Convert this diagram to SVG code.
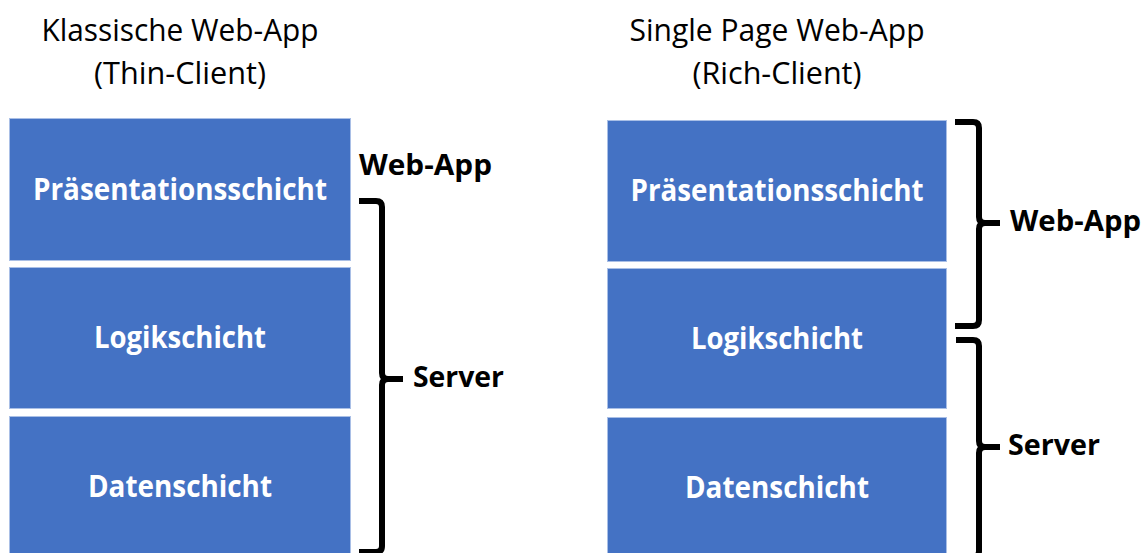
<svg xmlns="http://www.w3.org/2000/svg" width="1148" height="553" viewBox="0 0 1148 553">
  <style>
    .layer { fill: #4472C4; stroke: #a9bfe6; stroke-width: 1; }
    .label { font-family: "Open Sans", "Liberation Sans", sans-serif; font-weight: bold; font-size: 30px; fill: #ffffff; text-anchor: middle; }
    .title { font-family: "Open Sans", "Liberation Sans", sans-serif; font-size: 31.5px; fill: #000000; text-anchor: middle; }
    .tag { font-family: "Open Sans", "Liberation Sans", sans-serif; font-weight: bold; font-size: 29px; fill: #000000; }
    .brace { fill: none; stroke: #000000; stroke-width: 6; stroke-linejoin: round; }
  </style>

  <!-- Titles -->
  <g id="title-classic">
    <text class="title" x="180" y="41" textLength="277" lengthAdjust="spacingAndGlyphs">Klassische Web-App</text>
    <text class="title" x="180" y="84" textLength="172" lengthAdjust="spacingAndGlyphs">(Thin-Client)</text>
  </g>
  <g id="title-spa">
    <text class="title" x="777" y="41" textLength="295" lengthAdjust="spacingAndGlyphs">Single Page Web-App</text>
    <text class="title" x="777" y="84" textLength="169" lengthAdjust="spacingAndGlyphs">(Rich-Client)</text>
  </g>

  <!-- Classic stack -->
  <g id="classic-presentation">
    <rect class="layer" x="9.5" y="118.5" width="341" height="142"/>
    <text class="label" x="180" y="200" textLength="294" lengthAdjust="spacingAndGlyphs">Präsentationsschicht</text>
  </g>
  <g id="classic-logic">
    <rect class="layer" x="9.5" y="267.5" width="341" height="141"/>
    <text class="label" x="180" y="348" textLength="172" lengthAdjust="spacingAndGlyphs">Logikschicht</text>
  </g>
  <g id="classic-data">
    <rect class="layer" x="9.5" y="416.5" width="341" height="140"/>
    <text class="label" x="180" y="497" textLength="184" lengthAdjust="spacingAndGlyphs">Datenschicht</text>
  </g>

  <!-- Single page stack -->
  <g id="spa-presentation">
    <rect class="layer" x="607.5" y="120.5" width="339" height="141"/>
    <text class="label" x="777" y="201" textLength="293" lengthAdjust="spacingAndGlyphs">Präsentationsschicht</text>
  </g>
  <g id="spa-logic">
    <rect class="layer" x="607.5" y="268.5" width="339" height="140"/>
    <text class="label" x="777" y="349" textLength="172" lengthAdjust="spacingAndGlyphs">Logikschicht</text>
  </g>
  <g id="spa-data">
    <rect class="layer" x="607.5" y="417.5" width="339" height="140"/>
    <text class="label" x="777" y="498" textLength="184" lengthAdjust="spacingAndGlyphs">Datenschicht</text>
  </g>

  <!-- Braces grouping the layers -->
  <g id="connectors">
    <path class="brace" d="M359,201 H376 Q382,201 382,207 V373 Q382,379 388,379 H403 M388,379 Q382,379 382,385 V546 Q382,552 376,552 H359"/>
    <path class="brace" d="M955,122 H973 Q979,122 979,128 V217 Q979,223 985,223 H1000 M985,223 Q979,223 979,229 V320 Q979,326 973,326 H955"/>
    <path class="brace" d="M956,340 H973 Q979,340 979,346 V441 Q979,447 985,447 H1000 M985,447 Q979,447 979,453 V551 Q979,557 973,557 H956"/>
  </g>

  <!-- Brace labels -->
  <g id="label-classic-webapp">
    <text class="tag" x="359" y="175" textLength="133" lengthAdjust="spacingAndGlyphs">Web-App</text>
  </g>
  <g id="label-classic-server">
    <text class="tag" x="413" y="387" textLength="91" lengthAdjust="spacingAndGlyphs">Server</text>
  </g>
  <g id="label-spa-webapp">
    <text class="tag" x="1010" y="231" textLength="131" lengthAdjust="spacingAndGlyphs">Web-App</text>
  </g>
  <g id="label-spa-server">
    <text class="tag" x="1008" y="455" textLength="92" lengthAdjust="spacingAndGlyphs">Server</text>
  </g>
</svg>
